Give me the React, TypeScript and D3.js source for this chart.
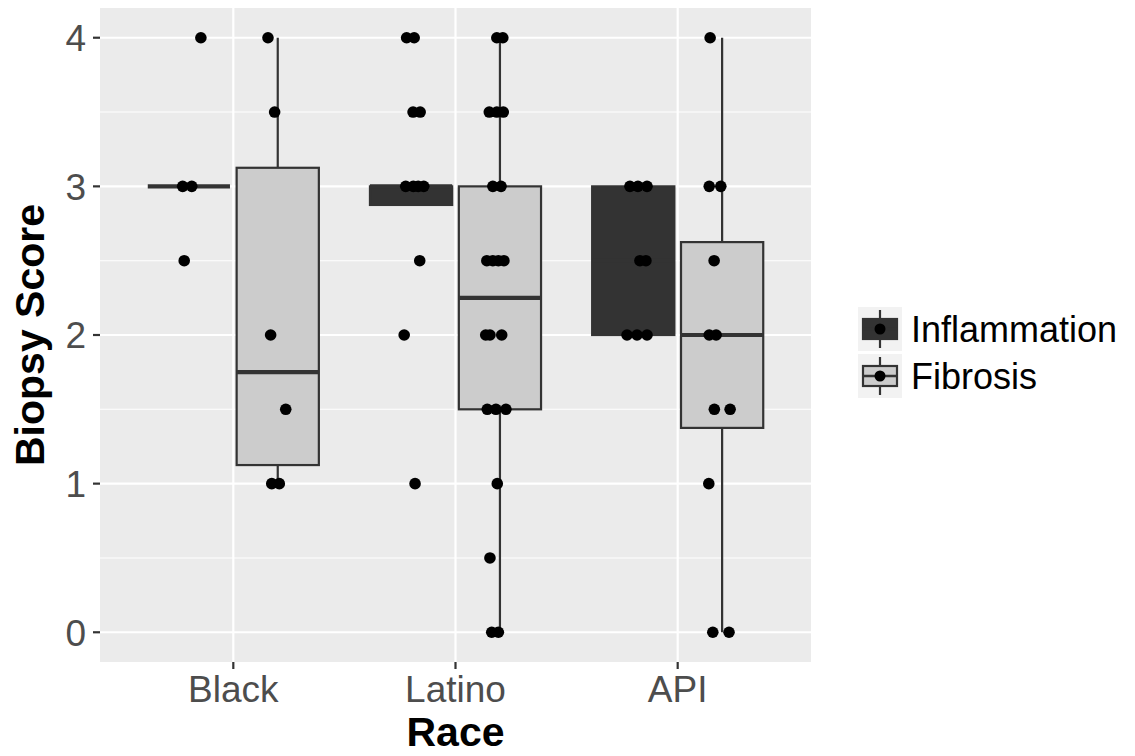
import React from 'react';
import * as d3 from 'd3';

const races = ['Black', 'Latino', 'API'];
const measures = ['Inflammation', 'Fibrosis'];
const yTicks = [0, 1, 2, 3, 4];
const yMinor = [0.5, 1.5, 2.5, 3.5];

// box stats, one value per race
const inflLower = [3, 2.875, 2];
const inflQ1 = [3, 2.875, 2];
const inflMedian = [3, 3, 2.5];
const inflQ3 = [3, 3, 3];
const inflUpper = [3, 3, 3];

const fibLower = [1, 0, 0];
const fibQ1 = [1.125, 1.5, 1.375];
const fibMedian = [1.75, 2.25, 2];
const fibQ3 = [3.125, 3, 2.625];
const fibUpper = [4, 4, 4];

// jittered points: scores and their horizontal jitter (category units)
const blackInfl = [4, 3, 3, 2.5];
const blackInflJit = [0.054, -0.028, 0.013, -0.021];
const blackFib = [4, 3.5, 2, 1.5, 1, 1];
const blackFibJit = [-0.044, -0.014, -0.032, 0.036, -0.027, 0.007];

const latinoInfl = [4, 4, 3.5, 3.5, 3, 3, 3, 3, 2.5, 2, 1];
const latinoInflJit = [-0.02, 0.014, 0.009, 0.041, -0.024, 0.01, 0.032, 0.057, 0.039, -0.031, 0.018];
const latinoFib = [4, 4, 3.5, 3.5, 3.5, 3, 3, 2.5, 2.5, 2.5, 2.5, 2, 2, 2, 1.5, 1.5, 1.5, 1, 0.5, 0, 0];
const latinoFibJit = [-0.014, 0.013, -0.048, -0.014, 0.015, -0.032, 0.005, -0.059, -0.032, -0.007, 0.018,
  -0.064, -0.045, 0.008, -0.057, -0.018, 0.027, -0.012, -0.045, -0.037, -0.007];

const apiInfl = [3, 3, 3, 2.5, 2.5, 2, 2, 2];
const apiInflJit = [-0.015, 0.021, 0.062, 0.03, 0.057, -0.028, 0.017, 0.062];
const apiFib = [4, 3, 3, 2.5, 2, 2, 1.5, 1.5, 1, 0, 0];
const apiFibJit = [-0.054, -0.058, -0.006, -0.036, -0.058, -0.027, -0.035, 0.036, -0.06, -0.042, 0.031];

const W = 1135;
const H = 756;
const panel = { left: 100, right: 811, top: 8, bottom: 662 };
const fills = ['#333333', '#cccccc'];
const dodge = [-0.2, 0.2];
const boxWidth = 0.37;
const font = '"Liberation Sans", Arial, sans-serif';

export default function App() {
  const x = d3.scaleLinear().domain([0.4, 3.6]).range([panel.left, panel.right]);
  const y = d3.scaleLinear().domain([-0.2, 4.2]).range([panel.bottom, panel.top]);
  const half = (x(boxWidth) - x(0)) / 2;

  const boxes = [
    [inflLower, inflQ1, inflMedian, inflQ3, inflUpper],
    [fibLower, fibQ1, fibMedian, fibQ3, fibUpper],
  ];
  const points = [
    [[blackInfl, blackInflJit], [blackFib, blackFibJit]],
    [[latinoInfl, latinoInflJit], [latinoFib, latinoFibJit]],
    [[apiInfl, apiInflJit], [apiFib, apiFibJit]],
  ];

  const midX = (panel.left + panel.right) / 2;
  const midY = (panel.top + panel.bottom) / 2;

  return (
    <svg width={W} height={H} style={{ position: 'absolute', left: 0, top: 0, background: '#fff' }}
      fontFamily={font}>
      <rect x={panel.left} y={panel.top} width={panel.right - panel.left}
        height={panel.bottom - panel.top} fill="#ebebeb" />
      {yMinor.map(v => (
        <line key={'mn' + v} x1={panel.left} x2={panel.right} y1={y(v)} y2={y(v)}
          stroke="#fff" strokeWidth={1.1} />
      ))}
      {yTicks.map(v => (
        <line key={'mj' + v} x1={panel.left} x2={panel.right} y1={y(v)} y2={y(v)}
          stroke="#fff" strokeWidth={2.2} />
      ))}
      {races.map((r, i) => (
        <line key={'vx' + r} x1={x(i + 1)} x2={x(i + 1)} y1={panel.top} y2={panel.bottom}
          stroke="#fff" strokeWidth={2.2} />
      ))}

      {/* boxplots */}
      {races.map((r, i) => measures.map((m, j) => {
        const [lo, q1, med, q3, hi] = boxes[j].map(a => a[i]);
        const cx = x(i + 1 + dodge[j]);
        return (
          <g key={r + m}>
            <line x1={cx} x2={cx} y1={y(hi)} y2={y(q3)} stroke="#333" strokeWidth={2.2} />
            <line x1={cx} x2={cx} y1={y(q1)} y2={y(lo)} stroke="#333" strokeWidth={2.2} />
            <rect x={cx - half} y={y(q3)} width={half * 2} height={y(q1) - y(q3)}
              fill={fills[j]} stroke="#333" strokeWidth={2.2} />
            <line x1={cx - half} x2={cx + half} y1={y(med)} y2={y(med)} stroke="#333" strokeWidth={4.2} />
          </g>
        );
      }))}

      {/* jittered points */}
      {races.map((r, i) => measures.map((m, j) => {
        const [vals, jit] = points[i][j];
        return vals.map((v, k) => (
          <circle key={r + m + k} cx={x(i + 1 + dodge[j] + jit[k])} cy={y(v)} r={5.8} fill="#000" />
        ));
      }))}

      {/* y axis */}
      {yTicks.map(v => (
        <g key={'yt' + v}>
          <line x1={panel.left - 7} x2={panel.left} y1={y(v)} y2={y(v)} stroke="#333" strokeWidth={2.2} />
          <text x={panel.left - 14} y={y(v)} dy="0.36em" textAnchor="end" fontSize={37} fill="#4d4d4d">{v}</text>
        </g>
      ))}
      {/* x axis */}
      {races.map((r, i) => (
        <g key={'xt' + r}>
          <line x1={x(i + 1)} x2={x(i + 1)} y1={panel.bottom} y2={panel.bottom + 7} stroke="#333" strokeWidth={2.2} />
          <text x={x(i + 1)} y={702} textAnchor="middle" fontSize={37} fill="#4d4d4d">{r}</text>
        </g>
      ))}
      <text x={midX} y={746} textAnchor="middle" fontSize={41} fontWeight="bold" fill="#000">Race</text>
      <text transform={`translate(44,${midY}) rotate(-90)`} textAnchor="middle" fontSize={41}
        fontWeight="bold" fill="#000">Biopsy Score</text>

      {/* legend */}
      {measures.map((m, j) => {
        const cy = 329 + j * 47;
        const kx = 858;
        const kc = kx + 22;
        return (
          <g key={'lg' + m}>
            <rect x={kx} y={cy - 22} width={44} height={44} fill="#f2f2f2" />
            <line x1={kc} x2={kc} y1={cy - 19} y2={cy + 19} stroke="#333" strokeWidth={2.2} />
            <rect x={kx + 5} y={cy - 10} width={34} height={20} fill={fills[j]} stroke="#333" strokeWidth={2.2} />
            <line x1={kx + 5} x2={kx + 39} y1={cy} y2={cy} stroke="#333" strokeWidth={2.5} />
            <circle cx={kc} cy={cy} r={5.5} fill="#000" />
            <text x={911} y={cy} dy="0.36em" fontSize={36} fill="#000">{m}</text>
          </g>
        );
      })}
    </svg>
  );
}
